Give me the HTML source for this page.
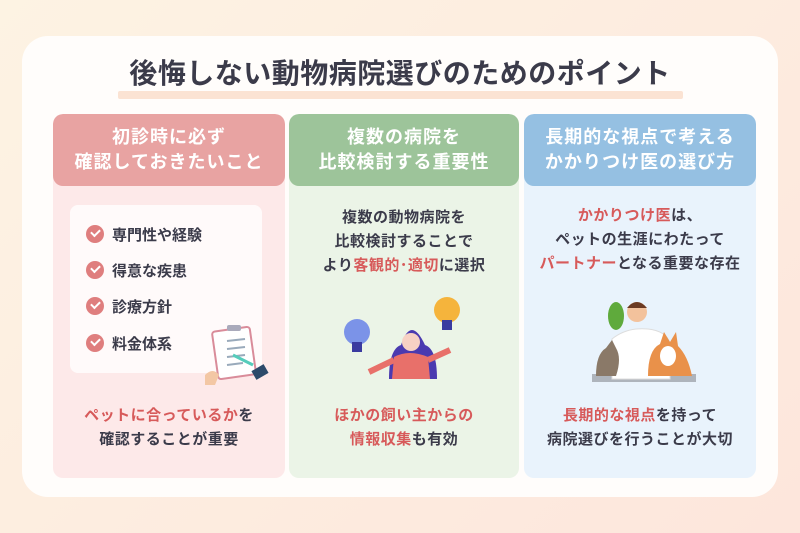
<!DOCTYPE html>
<html><head><meta charset="utf-8"><style>
*{margin:0;padding:0;box-sizing:border-box}
body{width:800px;height:533px;overflow:hidden;background:linear-gradient(135deg,#fdf3e3,#fde6dc);font-family:"Liberation Sans","Noto Sans CJK JP",sans-serif;position:relative;color:#3b3b4a}
.card{position:absolute;left:22px;top:36px;width:756px;height:461px;background:#fffdfb;border-radius:26px}
.title{position:absolute;left:0;width:800px;top:52px;text-align:center;font-size:28px;font-weight:bold;letter-spacing:0.5px;color:#3b3b4a}
.ul{position:absolute;left:118px;top:91px;width:565px;height:8px;background:#fbe3d3;border-radius:2px}
.col{position:absolute;top:114px;height:364px;border-radius:10px;overflow:hidden}
.hd{height:72px;color:#fff;font-weight:bold;font-size:18px;line-height:25px;text-align:center;padding-top:11px;letter-spacing:1px;border-radius:10px}
.t{position:absolute;left:0;width:100%;text-align:center;font-weight:bold;font-size:15px;line-height:24px;letter-spacing:0.5px}
.r{color:#d75a5a}
.inner{position:absolute;left:17px;top:91px;width:192px;height:168px;background:#fffafa;border-radius:8px}
.ck{position:absolute;left:16px;font-size:15px;font-weight:bold;line-height:20px}
.ck i{display:inline-block;width:18px;height:18px;border-radius:50%;background:#df7e7e;vertical-align:-3px;margin-right:8px;position:relative}
.ck i:after{content:"";position:absolute;left:5px;top:4px;width:7px;height:4px;border-left:2px solid #fff;border-bottom:2px solid #fff;transform:rotate(-45deg)}
</style></head><body>
<div class="card"></div>
<div class="ul"></div>
<div class="title">後悔しない動物病院選びのためのポイント</div>

<div class="col" style="left:53px;width:232px;background:#fde9e9">
<div class="hd" style="background:#e8a3a2">初診時に必ず<br>確認しておきたいこと</div>
<div class="inner">
<div class="ck" style="top:20px"><i></i>専門性や経験</div>
<div class="ck" style="top:56px"><i></i>得意な疾患</div>
<div class="ck" style="top:92px"><i></i>診療方針</div>
<div class="ck" style="top:129px"><i></i>料金体系</div>
<svg style="position:absolute;left:135px;top:118px" width="66" height="62">
<rect x="10" y="6" width="38" height="48" rx="3" fill="#fff" stroke="#d98c9a" stroke-width="2" transform="rotate(-8 29 30)"/>
<rect x="22" y="2" width="14" height="6" rx="2" fill="#aab"/>
<g stroke="#9ab" stroke-width="2"><line x1="22" y1="18" x2="40" y2="16"/><line x1="22" y1="26" x2="40" y2="24"/><line x1="22" y1="34" x2="40" y2="32"/><line x1="22" y1="42" x2="38" y2="40"/></g>
<line x1="28" y1="32" x2="48" y2="42" stroke="#5cb" stroke-width="3"/>
<path d="M0 52 q8-8 14 0 l-4 10 h-10z" fill="#f3c7a4"/><rect x="48" y="44" width="14" height="10" fill="#2c4a6a" transform="rotate(-30 55 49)"/>
</svg>
</div>
<div class="t" style="top:290px"><span class="r">ペットに合っているか</span>を<br>確認することが重要</div>
</div>

<div class="col" style="left:289px;width:230px;background:#ebf4e7">
<div class="hd" style="background:#9dc49a">複数の病院を<br>比較検討する重要性</div>
<div class="t" style="top:92px">複数の動物病院を<br>比較検討することで<br>より<span class="r">客観的･適切</span>に選択</div>
<svg style="position:absolute;left:45px;top:180px" width="140" height="85">
<circle cx="23" cy="38" r="13" fill="#7b93e8"/><rect x="18" y="48" width="10" height="10" fill="#3a3aa0"/>
<circle cx="113" cy="16" r="13" fill="#f5b43c"/><rect x="108" y="26" width="10" height="10" fill="#3a3aa0"/>
<path d="M55 85 q0-30 12-34 q10-30 24 0 q12 4 12 34z" fill="#4a3ab0"/>
<circle cx="77" cy="48" r="9" fill="#f7d1c4"/>
<path d="M58 85 l2-22 q15-8 34 0 l2 22z" fill="#e8706a"/>
<path d="M60 66 l-25 12 M94 66 l22 -10" stroke="#e8706a" stroke-width="6"/>
</svg>
<div class="t" style="top:290px"><span class="r">ほかの飼い主からの<br>情報収集</span>も有効</div>
</div>

<div class="col" style="left:524px;width:232px;background:#e9f3fc">
<div class="hd" style="background:#95c0e2">長期的な視点で考える<br>かかりつけ医の選び方</div>
<div class="t" style="top:90px"><span class="r">かかりつけ医</span>は、<br>ペットの生涯にわたって<br><span class="r">パートナー</span>となる重要な存在</div>
<svg style="position:absolute;left:58px;top:180px" width="120" height="92">
<rect x="10" y="80" width="104" height="8" fill="#aeb4bc"/>
<path d="M30 85 v-40 q15-12 36-10 q18 2 22 14 v36z" fill="#fff" stroke="#ddd"/>
<circle cx="55" cy="18" r="10" fill="#f3c29c"/><path d="M45 14 q10-12 20 0z" fill="#6b3a22"/>
<ellipse cx="34" cy="22" rx="8" ry="14" fill="#5faa3c"/>
<path d="M14 82 q0-22 10-28 l6-8 l4 8 q6 10 0 28z" fill="#8a7968"/>
<path d="M66 82 q0-26 12-32 l4-12 l6 10 l6-10 l2 14 q10 10 14 30z" fill="#e9914a"/>
<ellipse cx="86" cy="62" rx="8" ry="10" fill="#fff"/>
</svg>
<div class="t" style="top:290px"><span class="r">長期的な視点</span>を持って<br>病院選びを行うことが大切</div>
</div>
</body></html>
